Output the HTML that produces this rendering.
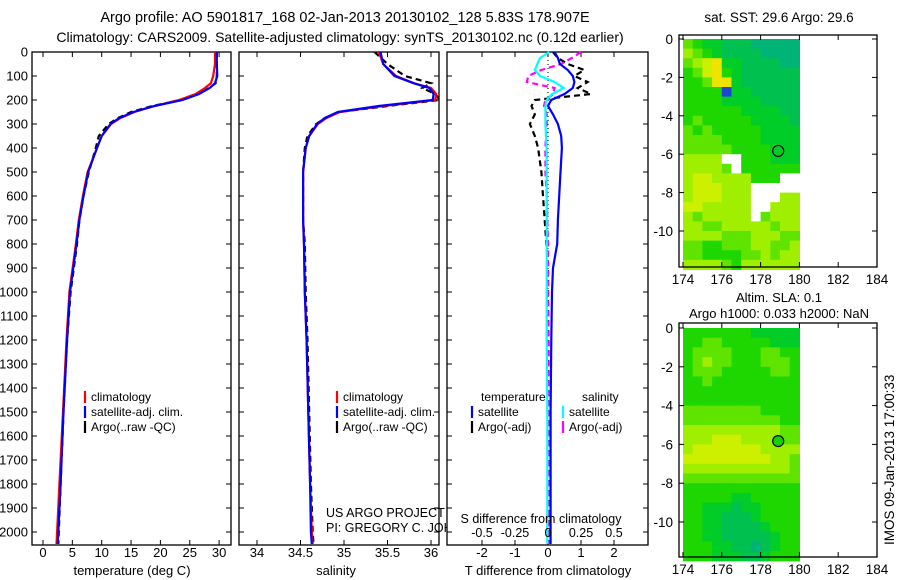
<!DOCTYPE html>
<html><head><meta charset="utf-8"><style>
html,body{margin:0;padding:0;background:#fff;}
svg{display:block;font-family:"Liberation Sans",Arial,sans-serif;}
</style></head><body>
<svg id="fig" width="900" height="580" viewBox="0 0 900 580" xmlns="http://www.w3.org/2000/svg">
<rect width="900" height="580" fill="#fff"/>
<text x="345" y="22" font-size="14.5" text-anchor="middle">Argo profile: AO 5901817_168 02-Jan-2013 20130102_128 5.83S 178.907E</text>
<text x="340" y="42" font-size="14" text-anchor="middle">Climatology: CARS2009. Satellite-adjusted climatology: synTS_20130102.nc (0.12d earlier)</text>
<text x="779" y="22" font-size="13.5" text-anchor="middle">sat. SST: 29.6 Argo: 29.6</text>
<text x="779" y="302" font-size="13" text-anchor="middle">Altim. SLA: 0.1</text>
<text x="779" y="318" font-size="13" text-anchor="middle">Argo h1000: 0.033 h2000: NaN</text>
<text transform="translate(894,545) rotate(-90)" font-size="13.5">IMOS 09-Jan-2013 17:00:33</text>
<g id="g1"></g><g id="g2"></g><g id="g3"></g><g id="m1"></g><g id="m2"></g>
</svg>
<script>
// ---- profile data ----
const depths = [0,50,100,130,150,175,200,225,250,275,300,350,400,500,600,700,800,1000,1200,1500,1800,2000,2050];
const tempClim = [29.3,29.3,29.0,28.6,27.6,26.0,23.2,19.0,15.6,13.2,11.6,10.0,9.2,7.6,6.8,6.1,5.6,4.5,4.0,3.4,2.8,2.4,2.3];
const tempSat  = [29.6,29.6,29.7,29.3,28.4,26.6,23.8,19.0,15.4,13.0,11.5,10.0,9.2,7.7,6.9,6.2,5.7,4.6,4.1,3.5,3.0,2.6,2.5];
const tempArgo = [29.6,29.6,29.6,29.4,28.3,26.5,23.6,18.6,15.0,12.8,11.2,9.5,9.0,7.8,6.9,6.2,5.8,4.7,4.1,3.5,3.0,2.7,2.6];
const salClim = [35.40,35.45,35.60,35.80,36.00,36.06,36.05,35.45,34.95,34.80,34.70,34.60,34.56,34.53,34.53,34.53,34.54,34.55,34.57,34.59,34.61,34.63,34.64];
const salSat  = [35.42,35.45,35.58,35.80,35.98,36.03,36.02,35.40,34.93,34.78,34.69,34.60,34.56,34.53,34.53,34.53,34.54,34.55,34.57,34.59,34.61,34.62,34.63];
const salArgo = [35.35,35.50,35.70,36.00,35.90,36.05,36.10,35.50,34.95,34.78,34.68,34.58,34.55,34.53,34.53,34.53,34.55,34.56,34.58,34.60,34.62,34.64,34.65];
// ---- difference data ----
const dDepths = [0,25,50,75,100,125,150,175,200,225,260,300,350,400,500,600,700,800,900,1000,1200,1500,2000,2050];
const dTSat  = [0.2,0.3,0.36,0.6,0.75,0.8,0.75,0.5,0.1,0.0,0.15,0.3,0.4,0.42,0.38,0.34,0.3,0.28,0.15,0.12,0.1,0.08,0.08,0.08];
const dTArgo = [0.15,0.3,0.6,1.1,0.8,1.2,0.9,1.3,-0.4,-0.5,-0.4,-0.55,-0.4,-0.3,-0.2,-0.15,-0.1,-0.05,0.0,0.0,0.0,0.0,0.02,0.02];
const dSSat  = [0.01,-0.06,-0.08,-0.1,-0.06,0.05,0.12,0.03,-0.01,-0.02,-0.02,-0.02,-0.015,-0.01,-0.01,-0.01,-0.01,-0.01,-0.01,-0.01,-0.01,-0.005,-0.005,-0.005];
const dSArgo = [0.25,0.18,0.1,-0.05,-0.15,-0.16,0.05,0.04,-0.02,-0.03,-0.01,-0.01,-0.015,-0.02,-0.02,-0.01,-0.005,0,0,0,0.005,0.005,0.01,0.01];
// ---- ticks ----
const depthTicks = [0,100,200,300,400,500,600,700,800,900,1000,1100,1200,1300,1400,1500,1600,1700,1800,1900,2000];
const tempTicks = [0,5,10,15,20,25,30];
const salTicks = [34,34.5,35,35.5,36];
const dTTicks = [-2,-1,0,1,2];
const dSTicks = [-0.5,-0.25,0,0.25,0.5];
const lonTicks = [174,176,178,180,182,184];
const latTicks = [0,-2,-4,-6,-8,-10];
// ---- map grids (0.5 deg cells, lon 174-180, lat 0 to -12) ----
const sstGrid = ["432211100000","543211110000","456722111100","346732111111","334772111111","333382211111","333322221111","333333222211","343333322221","434333332222","444433332222","444443333222","555599333222","555549333333","566555533399","566655599999","566655599955","665555599555","545555594555","554455555455","555544455544","443344455445","443333445455","555543555555"];
const slaGrid = ["333333322222","334433333222","344443334433","345443334443","344433333443","334333333333","333333333333","333333333333","444444443333","444444444433","555555555544","555666555544","566666665555","666666666554","555555555554","444444444444","333333333333","333332233333","332221223333","332211123333","332211112333","332211111233","333221101233","333222112333"];
const argoLon = [178.907];
const argoLat = [-5.83];

const NS='http://www.w3.org/2000/svg';
function mk(parent,tag,attrs){const e=document.createElementNS(NS,tag);for(const k in attrs)e.setAttribute(k,attrs[k]);parent.appendChild(e);return e;}
const yD = d => 52 + d*0.24;
const xTemp = t => 43 + t*5.87;
const xSal = s => 257 + (s-34)*87;
const xDT = t => 548 + t*33;
const xDS = s => 548 + s*132;

function frame(g,x0,x1,yTicks,labels){
  const r=mk(g,'rect',{x:x0,y:52,width:x1-x0,height:493,fill:'#fff',stroke:'#000','stroke-width':1.3});
  
  
  yTicks.forEach(d=>{
    const y=yD(d);
    mk(g,'line',{x1:x0,x2:x0+5,y1:y,y2:y,stroke:'#000'});
    mk(g,'line',{x1:x1,x2:x1-5,y1:y,y2:y,stroke:'#000'});
    if(labels){const t=mk(g,'text',{x:x0-4,y:y+4.5,'font-size':13,'text-anchor':'end'});t.textContent=d;
      
      }
  });
}
function xticks(g,vals,fx,lblY,fmt){
  vals.forEach(v=>{const x=fx(v);
    mk(g,'line',{x1:x,x2:x,y1:545,y2:540,stroke:'#000'});
    mk(g,'line',{x1:x,x2:x,y1:52,y2:57,stroke:'#000'});
    if(lblY){const t=mk(g,'text',{x:x,y:lblY,'font-size':13,'text-anchor':'middle'});t.textContent=fmt?fmt(v):v;
      
      }
  });
}
function line(g,xs,ds,fx,color,dash,name,w){
  const pts=xs.map((v,i)=>fx(v).toFixed(1)+','+yD(ds[i]).toFixed(1)).join(' ');
  const p=mk(g,'polyline',{points:pts,fill:'none',stroke:color,'stroke-width':w||2.2});
  if(dash)p.setAttribute('stroke-dasharray',dash);
  
  
}
function legend(g,x,y,items){
  items.forEach((it,i)=>{const yy=y+i*15;
    mk(g,'line',{x1:x,x2:x,y1:yy-10,y2:yy+2,stroke:it[1],'stroke-width':2.2});
    const t=mk(g,'text',{x:x+6,y:yy,'font-size':12});t.textContent=it[0];
    
    
  });
}
function label(g,x,y,txt,name,size){const t=mk(g,'text',{x:x,y:y,'font-size':size||13,'text-anchor':'middle'});t.textContent=txt;
  
  }

// panel 1
const g1=document.getElementById('g1');

frame(g1,32,231,depthTicks,true);
xticks(g1,tempTicks,xTemp,557);
line(g1,tempArgo,depths,xTemp,'#000','6,4','argo-temperature-line');
line(g1,tempClim,depths,xTemp,'#f00',null,'climatology-temperature-line');
line(g1,tempSat,depths,xTemp,'#00f',null,'satellite-temperature-line');
legend(g1,85,401,[['climatology','#f00'],['satellite-adj. clim.','#00f'],['Argo(..raw -QC)','#000']]);
label(g1,132,575,'temperature (deg C)','x-axis-title-temperature');

// panel 2
const g2=document.getElementById('g2');

frame(g2,239,439,depthTicks,false);
xticks(g2,salTicks,xSal,557);
const cp=mk(g2,'clipPath',{id:'c2'});mk(cp,'rect',{x:239,y:52,width:200,height:493});
const g2c=mk(g2,'g',{'clip-path':'url(#c2)'});
line(g2c,salArgo,depths,xSal,'#000','6,4','argo-salinity-line');
line(g2c,salClim,depths,xSal,'#f00',null,'climatology-salinity-line');
line(g2c,salSat,depths,xSal,'#00f',null,'satellite-salinity-line');
legend(g2,337,401,[['climatology','#f00'],['satellite-adj. clim.','#00f'],['Argo(..raw -QC)','#000']]);
label(g2,336,575,'salinity','x-axis-title-salinity');
const t1=mk(g2,'text',{x:326,y:517,'font-size':12.5});t1.textContent='US ARGO PROJECT';


const t2=mk(g2,'text',{x:326,y:532,'font-size':12.5});t2.textContent='PI: GREGORY C. JOHNSON';



// panel 3
const g3=document.getElementById('g3');

frame(g3,447,648,depthTicks,false);
xticks(g3,dTTicks,xDT,557);
mk(g3,'line',{x1:548,x2:548,y1:52,y2:300,stroke:'#000','stroke-dasharray':'1,3'});
line(g3,dTArgo,dDepths,xDT,'#000','6,4','argo-temperature-diff-line');
line(g3,dSArgo,dDepths,xDS,'#f0f','6,4','argo-salinity-diff-line');
line(g3,dTSat,dDepths,xDT,'#00f',null,'satellite-temperature-diff-line');
line(g3,dSSat,dDepths,xDS,'#0ff',null,'satellite-salinity-diff-line');
dSTicks.forEach(v=>{const t=mk(g3,'text',{x:xDS(v),y:537,'font-size':12.5,'text-anchor':'middle'});t.textContent=v;
  
  });
label(g3,541,523,'S difference from climatology','s-diff-axis-title',12.5);
label(g3,548,575,'T difference from climatology','t-diff-axis-title');
const tl=mk(g3,'text',{x:481,y:401,'font-size':12});tl.textContent='temperature';


const sl=mk(g3,'text',{x:582,y:401,'font-size':12});sl.textContent='salinity';


legend(g3,472,416,[['satellite','#00f'],['Argo(-adj)','#000']]);
legend(g3,563,416,[['satellite','#0ff'],['Argo(-adj)','#f0f']]);

// maps
const palette=['rgb(0,180,120)','rgb(0,192,80)','rgb(0,205,40)','rgb(30,215,0)','rgb(95,228,0)','rgb(160,238,0)','rgb(205,240,0)','rgb(238,228,0)','rgb(30,70,210)','#fff'];
function map(id,grid,y0,sy,top,bot,filled,name){
  const g=document.getElementById(id);
  
  const x0=683, sx=19.4;
  const fx=lon=>x0+(lon-174)*sx, fy=lat=>y0-lat*sy;
  mk(g,'rect',{x:679,y:top,width:198,height:bot-top,fill:'#fff'});
  grid.forEach((row,r)=>{for(let c=0;c<row.length;c++){
    const lon=174+c*0.5, lat=-r*0.5;
    const cell=mk(g,'rect',{x:fx(lon).toFixed(1),y:fy(lat).toFixed(1),width:(sx*0.5+0.6).toFixed(1),height:(sy*0.5+0.6).toFixed(1),fill:palette[+row[c]]});
    
    
  }});
  mk(g,'rect',{x:fx(180.1),y:top,width:877-fx(180.1),height:bot-top,fill:'#fff'});
  mk(g,'rect',{x:679,y:top,width:198,height:bot-top,fill:'none',stroke:'#000','stroke-width':1.3});
  lonTicks.forEach(v=>{const x=fx(v);
    mk(g,'line',{x1:x,x2:x,y1:bot,y2:bot-5,stroke:'#000'});mk(g,'line',{x1:x,x2:x,y1:top,y2:top+5,stroke:'#000'});
    const t=mk(g,'text',{x:x,y:bot+17,'font-size':13.5,'text-anchor':'middle'});t.textContent=v;
    
    });
  latTicks.forEach(v=>{const y=fy(v);
    mk(g,'line',{x1:679,x2:684,y1:y,y2:y,stroke:'#000'});mk(g,'line',{x1:877,x2:872,y1:y,y2:y,stroke:'#000'});
    const t=mk(g,'text',{x:673,y:y+5,'font-size':13.5,'text-anchor':'end'});t.textContent=v;
    
    });
  const c=mk(g,'circle',{cx:fx(argoLon[0]),cy:fy(argoLat[0]),r:5.5,fill:filled?'rgb(20,210,0)':'none',stroke:'#000','stroke-width':1.2});
  
  
}
map('m1',sstGrid,39,19.2,35,267,false,'sst-map');
map('m2',slaGrid,328,19.4,323,557,true,'sla-map');
</script>
</body></html>
